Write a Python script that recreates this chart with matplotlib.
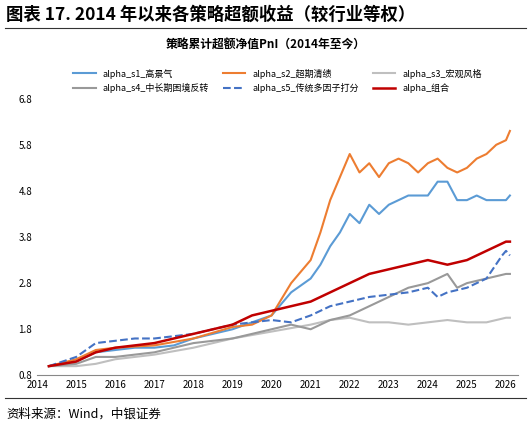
import matplotlib
matplotlib.use("Agg")
import matplotlib.pyplot as plt

plt.rcParams['font.family'] = ['Noto Sans CJK SC', 'DejaVu Sans']

s1_x = [2014.3,2014.6,2015.0,2015.5,2016,2016.5,2017,2017.5,2018,2018.5,2019,2019.5,2020,2020.5,2021,2021.25,2021.5,2021.75,2022,2022.25,2022.5,2022.75,2023,2023.25,2023.5,2023.75,2024,2024.25,2024.5,2024.75,2025,2025.25,2025.5,2025.75,2026,2026.1]
s1_y = [1.0,1.05,1.1,1.3,1.35,1.4,1.4,1.45,1.6,1.7,1.8,1.95,2.1,2.6,2.9,3.2,3.6,3.9,4.3,4.1,4.5,4.3,4.5,4.6,4.7,4.7,4.7,5.0,5.0,4.6,4.6,4.7,4.6,4.6,4.6,4.7]
s2_x = [2014.3,2015,2015.5,2016,2017,2018,2019,2019.5,2020,2020.5,2021,2021.25,2021.5,2021.75,2022,2022.25,2022.5,2022.75,2023,2023.25,2023.5,2023.75,2024,2024.25,2024.5,2024.75,2025,2025.25,2025.5,2025.75,2026,2026.1]
s2_y = [1.0,1.15,1.35,1.4,1.45,1.6,1.85,1.9,2.1,2.8,3.3,3.9,4.6,5.1,5.6,5.2,5.4,5.1,5.4,5.5,5.4,5.2,5.4,5.5,5.3,5.2,5.3,5.5,5.6,5.8,5.9,6.1]
s3_x = [2014.3,2015,2015.5,2016,2017,2018,2019,2020,2021,2021.5,2022,2022.5,2023,2023.5,2024,2024.5,2025,2025.5,2026,2026.1]
s3_y = [1.0,1.0,1.05,1.15,1.25,1.4,1.6,1.75,1.9,2.0,2.05,1.95,1.95,1.9,1.95,2.0,1.95,1.95,2.05,2.05]
s4_x = [2014.3,2015,2015.5,2016,2017,2018,2019,2020,2020.5,2021,2021.5,2022,2022.5,2023,2023.5,2024,2024.25,2024.5,2024.75,2025,2025.5,2026,2026.1]
s4_y = [1.0,1.05,1.2,1.2,1.3,1.5,1.6,1.8,1.9,1.8,2.0,2.1,2.3,2.5,2.7,2.8,2.9,3.0,2.7,2.8,2.9,3.0,3.0]
s5_x = [2014.3,2015,2015.5,2016,2016.5,2017,2018,2019,2020,2020.5,2021,2021.5,2022,2022.5,2023,2023.5,2024,2024.25,2024.5,2025,2025.5,2025.9,2026,2026.1]
s5_y = [1.0,1.2,1.5,1.55,1.6,1.6,1.7,1.9,2.0,1.95,2.1,2.3,2.4,2.5,2.55,2.6,2.7,2.5,2.6,2.7,2.9,3.4,3.5,3.4]
c_x = [2014.3,2015,2015.5,2016,2017,2018,2019,2019.5,2020,2020.5,2021,2021.5,2022,2022.5,2023,2023.5,2024,2024.5,2025,2025.5,2026,2026.1]
c_y = [1.0,1.1,1.3,1.4,1.5,1.7,1.9,2.1,2.2,2.3,2.4,2.6,2.8,3.0,3.1,3.2,3.3,3.2,3.3,3.5,3.7,3.7]

fig = plt.figure(figsize=(5.31, 4.29), dpi=100)
fig.text(0.012, 0.965, "图表 17. 2014 年以来各策略超额收益（较行业等权）", fontsize=12.5, fontweight='bold', va='center')
fig.add_artist(plt.Line2D([0.01, 0.99], [0.935, 0.935], color='#333', lw=0.8))
fig.text(0.5, 0.895, "策略累计超额净值PnI（2014年至今）", fontsize=8.5, fontweight='bold', ha='center', va='center')
fig.add_artist(plt.Line2D([0.01, 0.99], [0.072, 0.072], color='#333', lw=0.8))
fig.text(0.012, 0.035, "资料来源：Wind，中银证券", fontsize=9, style='italic', va='center')

ax = fig.add_axes([0.07, 0.125, 0.905, 0.645])
h1, = ax.plot(s1_x, s1_y, color='#5B9BD5', lw=1.5, label='alpha_s1_高景气')
h2, = ax.plot(s2_x, s2_y, color='#ED7D31', lw=1.5, label='alpha_s2_超期清绩')
h3, = ax.plot(s3_x, s3_y, color='#BFBFBF', lw=1.5, label='alpha_s3_宏观风格')
h4, = ax.plot(s4_x, s4_y, color='#999999', lw=1.5, label='alpha_s4_中长期困境反转')
h5, = ax.plot(s5_x, s5_y, color='#4472C4', lw=1.5, ls='--', label='alpha_s5_传统多因子打分')
h6, = ax.plot(c_x, c_y, color='#C00000', lw=1.8, label='alpha_组合')
ax.set_xlim(2014, 2026.3)
ax.set_ylim(0.8, 6.8)
ax.set_xticks(range(2014, 2027))
ax.set_yticks([0.8,1.8,2.8,3.8,4.8,5.8,6.8])
ax.tick_params(labelsize=7, length=0)
for s in ['top','right','left']:
    ax.spines[s].set_visible(False)
ax.spines['bottom'].set_color('#888')
hs = [h1, h4, h2, h5, h3, h6]
ax.legend(hs, [h.get_label() for h in hs], loc='lower center', bbox_to_anchor=(0.5, 1.0), ncol=3,
          fontsize=6.5, frameon=False, handlelength=2.5, columnspacing=1.5, borderaxespad=0.2)
fig.savefig("out.png", dpi=100)
